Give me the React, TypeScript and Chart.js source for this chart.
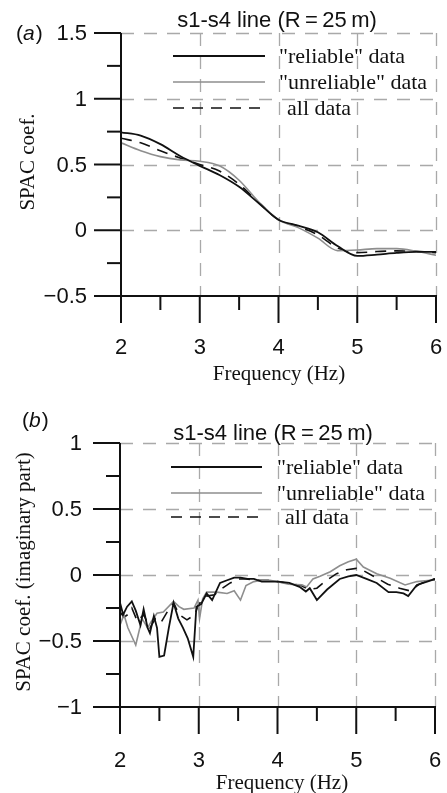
import React, { useEffect, useRef } from "react";
import { Chart, registerables } from "chart.js";

Chart.register(...registerables);

// ---------- Panel (a) data ----------
const freqA = [2, 2.25, 2.5, 2.75, 3, 3.25, 3.5, 3.75, 4, 4.25, 4.5, 4.75, 5, 5.25, 5.5, 5.75, 6];
const reliableA = [0.745, 0.72, 0.655, 0.565, 0.49, 0.42, 0.33, 0.205, 0.08, 0.035, -0.015, -0.12, -0.195, -0.185, -0.172, -0.165, -0.165];
const unreliableA = [0.665, 0.605, 0.56, 0.535, 0.525, 0.49, 0.38, 0.215, 0.08, 0.02, -0.06, -0.155, -0.15, -0.14, -0.14, -0.16, -0.19];
const allA = [0.7, 0.665, 0.605, 0.55, 0.5, 0.45, 0.35, 0.21, 0.08, 0.03, -0.035, -0.135, -0.17, -0.162, -0.157, -0.16, -0.17];

// ---------- Panel (b) data ----------
const reliableFreqB = [2.0, 2.04, 2.09, 2.15, 2.2, 2.26, 2.3, 2.35, 2.38, 2.43, 2.47, 2.5, 2.56, 2.62, 2.68, 2.74, 2.8, 2.86, 2.93, 2.97, 3.03, 3.1, 3.17, 3.27, 3.36, 3.45, 3.53, 3.62, 3.7, 3.8, 3.9, 4.01, 4.15, 4.28, 4.36, 4.41, 4.5, 4.63, 4.79, 4.9, 5.0, 5.13, 5.26, 5.41, 5.51, 5.6, 5.66, 5.77, 5.9, 6.0];
const reliableB = [-0.21, -0.3, -0.24, -0.2, -0.27, -0.38, -0.26, -0.4, -0.44, -0.31, -0.4, -0.62, -0.61, -0.4, -0.21, -0.33, -0.4, -0.48, -0.62, -0.24, -0.22, -0.14, -0.19, -0.06, -0.04, -0.02, -0.02, -0.03, -0.03, -0.05, -0.05, -0.05, -0.06, -0.09, -0.125, -0.1, -0.19, -0.11, -0.03, -0.01, 0.0, -0.03, -0.06, -0.13, -0.13, -0.14, -0.16, -0.075, -0.05, -0.03];

const unreliableFreqB = [2.0, 2.05, 2.1, 2.2, 2.28, 2.35, 2.4, 2.47, 2.55, 2.68, 2.75, 2.81, 2.94, 2.99, 3.01, 3.05, 3.1, 3.23, 3.36, 3.45, 3.53, 3.6, 3.7, 3.8, 3.9, 4.0, 4.14, 4.31, 4.37, 4.45, 4.54, 4.67, 4.79, 4.9, 5.0, 5.09, 5.26, 5.43, 5.62, 5.77, 5.94, 6.0];
const unreliableB = [-0.38, -0.3, -0.4, -0.53, -0.33, -0.4, -0.35, -0.29, -0.28, -0.2, -0.24, -0.26, -0.25, -0.19, -0.33, -0.18, -0.13, -0.13, -0.14, -0.12, -0.19, -0.08, -0.05, -0.04, -0.04, -0.05, -0.07, -0.075, -0.09, -0.03, -0.01, 0.025, 0.07, 0.1, 0.12, 0.06, 0.01, -0.025, -0.075, -0.05, -0.04, -0.04];

const allFreqB = [2.0, 2.05, 2.1, 2.15, 2.22, 2.3, 2.38, 2.45, 2.52, 2.6, 2.68, 2.75, 2.85, 2.95, 3.0, 3.1, 3.2, 3.3, 3.4, 3.5, 3.6, 3.75, 3.9, 4.0, 4.15, 4.3, 4.4, 4.5, 4.6, 4.75, 4.88, 5.0, 5.1, 5.25, 5.4, 5.55, 5.68, 5.8, 5.92, 6.0];
const allB = [-0.28, -0.32, -0.3, -0.25, -0.35, -0.3, -0.4, -0.33, -0.36, -0.28, -0.21, -0.3, -0.34, -0.3, -0.22, -0.16, -0.15, -0.1, -0.06, -0.03, -0.03, -0.04, -0.04, -0.05, -0.065, -0.08, -0.11, -0.1, -0.05, 0.01, 0.04, 0.05, 0.03, -0.02, -0.07, -0.1, -0.12, -0.07, -0.04, -0.03];

// ---------- ticks / labels ----------
const xMajorTicks = [2, 3, 4, 5, 6];
const xMinorTicks = [2.5, 3.5, 4.5, 5.5];
const xTickLabels = ["2", "3", "4", "5", "6"];
const yMajorA = [1.5, 1, 0.5, 0, -0.5];
const yMinorA = [1.25, 0.75, 0.25, -0.25];
const yLabelsA = ["1.5", "1", "0.5", "0", "\u22120.5"];
const yMajorB = [1, 0.5, 0, -0.5, -1];
const yMinorB = [0.75, 0.25, -0.25, -0.75];
const yLabelsB = ["1", "0.5", "0", "\u22120.5", "\u22121"];

const legendLabels = ['"reliable" data', '"unreliable" data', "all data"];
const panelTitle = "s1-s4 line (R\u2009=\u200925\u2009m)";
const xTitle = "Frequency (Hz)";
const yTitleA = "SPAC coef.";
const yTitleB = "SPAC coef. (imaginary part)";

const SANS = '"Liberation Sans", Arial, sans-serif';
const SERIF = '"Liberation Serif", "Times New Roman", serif';
const GRID = "#a9a9a9";
const GRAY = "#8e8e8e";

type Layout = {
  letter: string;
  letterX: number;
  letterY: number;
  titleX: number;
  titleY: number;
  legendX0: number;
  legendX1: number;
  legendTextX: number;
  legendYs: number[];
  yTitle: string;
  yTitleX: number;
  yTitleY: number;
  xLabelY: number;
  xTitleX: number;
  xTitleY: number;
  yLabelOffset: number;
  yMajor: number[];
  yMinor: number[];
  yLabels: string[];
};

function makePlugin(L: Layout) {
  return {
    id: "paperAxes",
    beforeDatasetsDraw(chart: any) {
      const ctx = chart.ctx as CanvasRenderingContext2D;
      const { left, right, top, bottom } = chart.chartArea;
      const xs = chart.scales.x;
      const ys = chart.scales.y;
      ctx.save();
      ctx.strokeStyle = GRID;
      ctx.lineWidth = 1.3;
      ctx.setLineDash([13, 10]);
      xMajorTicks.forEach((v, i) => {
        if (i === 0) return;
        const px = Math.round(xs.getPixelForValue(v)) + 0.5;
        ctx.beginPath();
        ctx.moveTo(px, top);
        ctx.lineTo(px, bottom);
        ctx.stroke();
      });
      L.yMajor.forEach((v, i) => {
        if (i === L.yMajor.length - 1) return;
        const py = Math.round(ys.getPixelForValue(v)) + 0.5;
        ctx.beginPath();
        ctx.moveTo(left, py);
        ctx.lineTo(right, py);
        ctx.stroke();
      });
      ctx.restore();
    },
    afterDatasetsDraw(chart: any) {
      const ctx = chart.ctx as CanvasRenderingContext2D;
      const { left, right, top, bottom } = chart.chartArea;
      const xs = chart.scales.x;
      const ys = chart.scales.y;
      const MAJ = 27;
      const MIN = 14;
      ctx.save();
      ctx.strokeStyle = "#111";
      ctx.lineWidth = 2;
      ctx.setLineDash([]);
      // axes
      ctx.beginPath();
      ctx.moveTo(left, top);
      ctx.lineTo(left, bottom + MAJ);
      ctx.moveTo(left - MAJ, bottom);
      ctx.lineTo(right + 1, bottom);
      ctx.stroke();
      // y ticks
      L.yMajor.forEach((v) => {
        const py = ys.getPixelForValue(v);
        ctx.beginPath();
        ctx.moveTo(left - MAJ, py);
        ctx.lineTo(left, py);
        ctx.stroke();
      });
      L.yMinor.forEach((v) => {
        const py = ys.getPixelForValue(v);
        ctx.beginPath();
        ctx.moveTo(left - MIN, py);
        ctx.lineTo(left, py);
        ctx.stroke();
      });
      // x ticks
      xMajorTicks.forEach((v) => {
        const px = xs.getPixelForValue(v);
        ctx.beginPath();
        ctx.moveTo(px, bottom);
        ctx.lineTo(px, bottom + MAJ);
        ctx.stroke();
      });
      xMinorTicks.forEach((v) => {
        const px = xs.getPixelForValue(v);
        ctx.beginPath();
        ctx.moveTo(px, bottom);
        ctx.lineTo(px, bottom + MIN);
        ctx.stroke();
      });
      // tick labels
      ctx.fillStyle = "#111";
      ctx.font = `22px ${SANS}`;
      ctx.textAlign = "right";
      ctx.textBaseline = "middle";
      L.yMajor.forEach((v, i) => {
        ctx.fillText(L.yLabels[i], left - L.yLabelOffset, ys.getPixelForValue(v) + 1);
      });
      ctx.textAlign = "center";
      xMajorTicks.forEach((v, i) => {
        ctx.fillText(xTickLabels[i], xs.getPixelForValue(v), L.xLabelY);
      });
      // x title
      ctx.font = `21px ${SERIF}`;
      ctx.fillText(xTitle, L.xTitleX, L.xTitleY);
      // y title
      ctx.save();
      ctx.translate(L.yTitleX, L.yTitleY);
      ctx.rotate(-Math.PI / 2);
      ctx.fillText(L.yTitle, 0, 0);
      ctx.restore();
      // panel title
      ctx.font = `22px ${SANS}`;
      ctx.fillText(panelTitle, L.titleX, L.titleY);
      // panel letter "(a)"
      ctx.textAlign = "left";
      let x = L.letterX;
      ctx.font = `21px ${SANS}`;
      ctx.fillText("(", x, L.letterY);
      x += ctx.measureText("(").width;
      ctx.font = `italic 21px ${SANS}`;
      ctx.fillText(L.letter, x, L.letterY);
      x += ctx.measureText(L.letter).width + 1;
      ctx.font = `21px ${SANS}`;
      ctx.fillText(")", x, L.letterY);
      // legend
      chart.data.datasets.forEach((ds: any, i: number) => {
        const y = L.legendYs[i];
        ctx.save();
        ctx.strokeStyle = ds.borderColor;
        ctx.lineWidth = ds.borderWidth;
        ctx.setLineDash(ds.borderDash || []);
        ctx.beginPath();
        ctx.moveTo(L.legendX0, y);
        ctx.lineTo(L.legendX1, y);
        ctx.stroke();
        ctx.restore();
        ctx.font = `22px ${SERIF}`;
        ctx.fillStyle = "#111";
        ctx.textAlign = "left";
        ctx.textBaseline = "middle";
        ctx.fillText(legendLabels[i], L.legendTextX + (i === 2 ? 8 : 0), y + 1);
      });
      ctx.restore();
    },
  };
}

function toPoints(xs: number[], ys: number[]) {
  return xs.map((x, i) => ({ x, y: ys[i] }));
}

function Panel(props: {
  width: number;
  height: number;
  padding: { left: number; right: number; top: number; bottom: number };
  yMin: number;
  yMax: number;
  datasets: any[];
  layout: Layout;
}) {
  const ref = useRef<HTMLCanvasElement>(null);
  useEffect(() => {
    if (!ref.current) return;
    const chart = new Chart(ref.current, {
      type: "line",
      data: { datasets: props.datasets },
      options: {
        animation: false,
        responsive: false,
        devicePixelRatio: 1,
        layout: { padding: props.padding },
        plugins: { legend: { display: false }, tooltip: { enabled: false }, title: { display: false } },
        elements: { point: { radius: 0 } },
        scales: {
          x: { type: "linear", min: 2, max: 6, display: false },
          y: { type: "linear", min: props.yMin, max: props.yMax, display: false },
        },
      },
      plugins: [makePlugin(props.layout)],
    } as any);
    return () => chart.destroy();
  }, []);
  return <canvas ref={ref} width={props.width} height={props.height} style={{ display: "block" }} />;
}

export default function App() {
  const dsA = [
    { label: legendLabels[0], data: toPoints(freqA, reliableA), borderColor: "#111", borderWidth: 1.8, cubicInterpolationMode: "monotone", fill: false },
    { label: legendLabels[1], data: toPoints(freqA, unreliableA), borderColor: GRAY, borderWidth: 1.6, cubicInterpolationMode: "monotone", fill: false },
    { label: legendLabels[2], data: toPoints(freqA, allA), borderColor: "#111", borderWidth: 1.6, borderDash: [11, 8], cubicInterpolationMode: "monotone", fill: false },
  ];
  const dsB = [
    { label: legendLabels[0], data: toPoints(reliableFreqB, reliableB), borderColor: "#111", borderWidth: 1.8, tension: 0, fill: false },
    { label: legendLabels[1], data: toPoints(unreliableFreqB, unreliableB), borderColor: GRAY, borderWidth: 1.6, tension: 0, fill: false },
    { label: legendLabels[2], data: toPoints(allFreqB, allB), borderColor: "#111", borderWidth: 1.6, borderDash: [11, 8], tension: 0, fill: false },
  ];
  const layoutA: Layout = {
    letter: "a", letterX: 16, letterY: 34,
    titleX: 277, titleY: 21,
    legendX0: 173, legendX1: 265, legendTextX: 279, legendYs: [56, 82, 108],
    yTitle: yTitleA, yTitleX: 28, yTitleY: 162,
    xLabelY: 348, xTitleX: 279, xTitleY: 374,
    yLabelOffset: 34, yMajor: yMajorA, yMinor: yMinorA, yLabels: yLabelsA,
  };
  const layoutB: Layout = {
    letter: "b", letterX: 22, letterY: 26,
    titleX: 273, titleY: 39,
    legendX0: 171, legendX1: 262, legendTextX: 277, legendYs: [72, 98, 122],
    yTitle: yTitleB, yTitleX: 24, yTitleY: 177,
    xLabelY: 366, xTitleX: 282, xTitleY: 388,
    yLabelOffset: 38, yMajor: yMajorB, yMinor: yMinorB, yLabels: yLabelsB,
  };
  return (
    <div style={{ position: "absolute", left: 0, top: 0, width: 447, height: 793, background: "#fff" }}>
      <Panel width={447} height={395} padding={{ left: 121, right: 11, top: 33, bottom: 99 }} yMin={-0.5} yMax={1.5} datasets={dsA} layout={layoutA} />
      <Panel width={447} height={398} padding={{ left: 120, right: 12, top: 48, bottom: 86 }} yMin={-1} yMax={1} datasets={dsB} layout={layoutB} />
    </div>
  );
}
